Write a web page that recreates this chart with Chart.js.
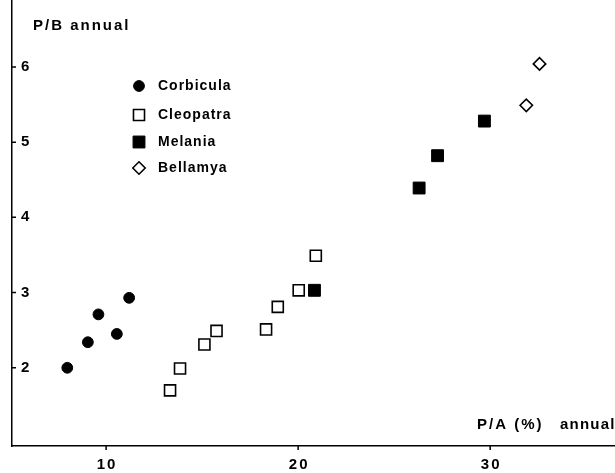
<!DOCTYPE html>
<html>
<head>
<meta charset="utf-8">
<script src="https://cdn.jsdelivr.net/npm/chart.js@4/dist/chart.umd.min.js"></script>
<style>
  html, body { margin: 0; padding: 0; background: #fff; }
  #wrap { width: 615px; height: 473px; }
</style>
</head>
<body>
<div id="wrap"><canvas id="pbChart" width="615" height="473"></canvas></div>
<script>
// P/A (%) annual vs P/B annual for four mollusc genera
const corbiculaX = [7.98, 9.05, 9.6, 10.56, 11.2];
const corbiculaY = [2.0, 2.34, 2.71, 2.45, 2.93];

const cleopatraX = [13.33, 13.85, 15.12, 15.75, 18.33, 18.94, 20.03, 20.92];
const cleopatraY = [1.70, 1.99, 2.31, 2.49, 2.51, 2.81, 3.03, 3.49];

const melaniaX = [20.85, 26.3, 27.26, 29.7];
const melaniaY = [3.03, 4.39, 4.82, 5.28];

const bellamyaX = [31.88, 32.57];
const bellamyaY = [5.49, 6.04];

const xTicks = [10, 20, 30];
const yTicks = [2, 3, 4, 5, 6];

const seriesNames = ['Corbicula', 'Cleopatra', 'Melania', 'Bellamya'];

function toPoints(xs, ys) {
  return xs.map((x, i) => ({ x: x, y: ys[i] }));
}

const FAMILY = '"Liberation Sans", Arial, sans-serif';

// tick labels, inward ticks, axis titles and the legend box, all inside the plot
const annotate = {
  id: 'annotate',
  afterDraw(chart) {
    const ctx = chart.ctx;
    const xs = chart.scales.x;
    const ys = chart.scales.y;
    const area = chart.chartArea;
    ctx.save();
    ctx.strokeStyle = '#000';
    ctx.lineWidth = 1.5;
    ctx.beginPath();
    yTicks.forEach(v => {
      const py = ys.getPixelForValue(v);
      ctx.moveTo(area.left, py);
      ctx.lineTo(area.left + 4, py);
    });
    xTicks.forEach(v => {
      const px = xs.getPixelForValue(v);
      ctx.moveTo(px, area.bottom);
      ctx.lineTo(px, area.bottom + 4);
    });
    ctx.stroke();

    ctx.fillStyle = '#000';
    ctx.font = 'bold 15px ' + FAMILY;
    ctx.letterSpacing = '2px';
    ctx.textBaseline = 'middle';

    ctx.textAlign = 'left';
    yTicks.forEach(v => {
      ctx.fillText(String(v), area.left + 9, ys.getPixelForValue(v));
    });
    ctx.textAlign = 'center';
    xTicks.forEach(v => {
      ctx.fillText(String(v), xs.getPixelForValue(v) + 1, area.bottom + 19);
    });

    ctx.textAlign = 'left';
    ctx.fillText('P/B annual', 33, 26);
    ctx.fillText('P/A (%)', 477, 425);
    ctx.letterSpacing = '1.2px';
    ctx.fillText('annual', 560, 425);

    // legend
    ctx.font = 'bold 14px ' + FAMILY;
    ctx.letterSpacing = '1px';
    const rows = [86, 115, 142, 168];
    chart.data.datasets.forEach((ds, i) => {
      const y = rows[i];
      ctx.fillStyle = ds.backgroundColor;
      ctx.strokeStyle = '#000';
      ctx.lineWidth = ds.borderWidth;
      Chart.helpers.drawPoint(ctx, {
        pointStyle: ds.pointStyle,
        radius: ds.pointRadius,
        borderWidth: ds.borderWidth
      }, 139, y);
      ctx.fillStyle = '#000';
      ctx.fillText(seriesNames[i], 158, y);
    });
    ctx.restore();
  }
};

new Chart(document.getElementById('pbChart').getContext('2d'), {
  type: 'scatter',
  data: {
    datasets: [
      {
        label: seriesNames[0],
        data: toPoints(corbiculaX, corbiculaY),
        pointStyle: 'circle',
        pointRadius: 5.4,
        backgroundColor: '#000',
        borderColor: '#000',
        borderWidth: 1
      },
      {
        label: seriesNames[1],
        data: toPoints(cleopatraX, cleopatraY),
        pointStyle: 'rect',
        pointRadius: 7.8,
        backgroundColor: '#fff',
        borderColor: '#000',
        borderWidth: 1.6
      },
      {
        label: seriesNames[2],
        data: toPoints(melaniaX, melaniaY),
        pointStyle: 'rect',
        pointRadius: 8.4,
        backgroundColor: '#000',
        borderColor: '#000',
        borderWidth: 1
      },
      {
        label: seriesNames[3],
        data: toPoints(bellamyaX, bellamyaY),
        pointStyle: 'rectRot',
        pointRadius: 6.2,
        backgroundColor: '#fff',
        borderColor: '#000',
        borderWidth: 1.6
      }
    ]
  },
  options: {
    responsive: false,
    animation: false,
    events: [],
    layout: { autoPadding: false, padding: { left: 12, right: 0, top: 0, bottom: 27 } },
    plugins: {
      legend: { display: false },
      tooltip: { enabled: false }
    },
    scales: {
      x: {
        type: 'linear',
        min: 5.1,
        max: 36.5,
        grid: { display: false, drawTicks: false },
        border: { display: true, color: '#000', width: 1.5 },
        ticks: { display: false }
      },
      y: {
        type: 'linear',
        min: 0.96,
        max: 6.89,
        grid: { display: false, drawTicks: false },
        border: { display: true, color: '#000', width: 1.5 },
        ticks: { display: false }
      }
    }
  },
  plugins: [annotate]
});
</script>
</body>
</html>
